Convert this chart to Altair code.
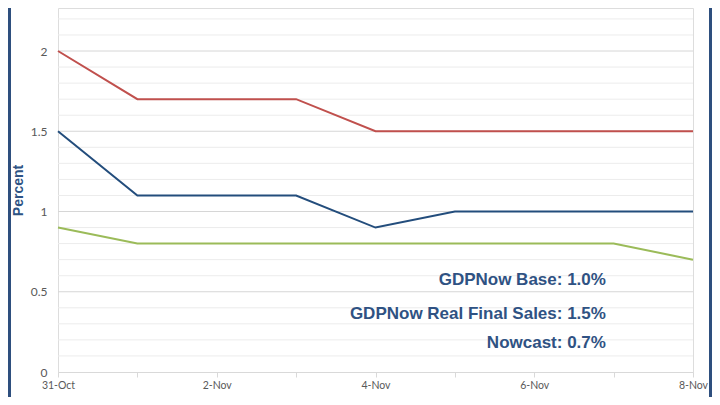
import altair as alt
import pandas as pd

dates = ["2016-10-31", "2016-11-01", "2016-11-02", "2016-11-03", "2016-11-04",
         "2016-11-05", "2016-11-06", "2016-11-07", "2016-11-08"]
real_final_sales = [2.0, 1.7, 1.7, 1.7, 1.5, 1.5, 1.5, 1.5, 1.5]
gdpnow_base = [1.5, 1.1, 1.1, 1.1, 0.9, 1.0, 1.0, 1.0, 1.0]
nowcast = [0.9, 0.8, 0.8, 0.8, 0.8, 0.8, 0.8, 0.8, 0.7]
series_names = ["GDPNow Real Final Sales", "GDPNow Base", "Nowcast"]
series_colors = ["#c0504d", "#234d7c", "#9bbb59"]

annot_text = ["GDPNow Base: 1.0%", "GDPNow Real Final Sales: 1.5%", "Nowcast: 0.7%"]
annot_date = ["2016-11-06T21:40:00Z"] * 3
annot_y = [0.573, 0.362, 0.181]

y_major = [0, 0.5, 1, 1.5, 2]
y_minor = [0.1, 0.2, 0.3, 0.4, 0.6, 0.7, 0.8, 0.9, 1.1, 1.2, 1.3, 1.4,
           1.6, 1.7, 1.8, 1.9, 2.1, 2.2]

rows = []
for name, vals in zip(series_names, [real_final_sales, gdpnow_base, nowcast]):
    for d, v in zip(dates, vals):
        rows.append({"date": d + "T00:00:00Z", "value": v, "series": name})
df = pd.DataFrame(rows)

ann = pd.DataFrame({"date": annot_date, "value": annot_y, "text": annot_text})

x_scale = alt.Scale(type="utc", domain=[dates[0] + "T00:00:00Z", dates[-1] + "T00:00:00Z"], nice=False)
y_scale = alt.Scale(domain=[0, 2.268], nice=False, zero=False)

tick_vals = [alt.DateTime(year=int(d[:4]), month=int(d[5:7]), date=int(d[8:]), utc=True) for d in dates]

minor_grid = alt.Chart(pd.DataFrame({"v": y_minor})).mark_rule(color="#ececec", strokeWidth=1).encode(
    y=alt.Y("v:Q", scale=y_scale),
)
major_grid = alt.Chart(pd.DataFrame({"v": y_major[1:]})).mark_rule(color="#d6d6d6", strokeWidth=1).encode(
    y=alt.Y("v:Q", scale=y_scale),
)

lines = alt.Chart(df).mark_line(strokeWidth=2).encode(
    x=alt.X("date:T", scale=x_scale, title=None,
            axis=alt.Axis(values=tick_vals, grid=False, domainColor="#d9d9d9", domainWidth=1,
                          tickColor="#d9d9d9", tickSize=5, labelColor="#595959", labelFontSize=10.5,
                          labelFont="Lato", labelPadding=3, labelOverlap=False, labelFlush=False,
                          labelExpr="round((datum.value - utc(2016,9,31))/86400000) % 2 === 0 ? utcFormat(datum.value, '%-d-%b') : ''")),
    y=alt.Y("value:Q", scale=y_scale, title="Percent",
            axis=alt.Axis(values=y_major, format="~g", grid=False, domain=False, ticks=False,
                          labelOverlap=False, labelFlush=False,
                          labelColor="#595959", labelFontSize=12, labelFont="Lato", labelPadding=11,
                          titleFont="Liberation Sans", titleFontSize=14, titleFontWeight="bold",
                          titleColor="#2e5384", titleX=-40, titleY=182, titleAngle=270,
                          titleAlign="center", titleBaseline="middle")),
    color=alt.Color("series:N", scale=alt.Scale(domain=series_names, range=series_colors), legend=None),
)

texts = alt.Chart(ann).mark_text(align="right", baseline="middle", font="Liberation Sans",
                                 fontSize=17, fontWeight="bold", color="#2f5283").encode(
    x=alt.X("date:T", scale=x_scale),
    y=alt.Y("value:Q", scale=y_scale),
    text="text:N",
)

border = alt.Chart(pd.DataFrame({"side": ["left", "right"], "px": [-48.5, 652.5]})).mark_rule(
    strokeWidth=3, color="#2e4f7e").encode(
    x=alt.X("px:Q", scale=None),
    y=alt.value(0),
    y2=alt.value(389),
)

chart = alt.layer(minor_grid, major_grid, lines, texts, border).properties(
    width=635, height=364,
    autosize=alt.AutoSizeParams(type="none"),
    padding={"left": 50, "top": 0, "right": 19, "bottom": 25},
).configure_view(stroke=None).configure(background="white")

chart.save("out.html", embed_options={"renderer": "svg", "actions": False})
